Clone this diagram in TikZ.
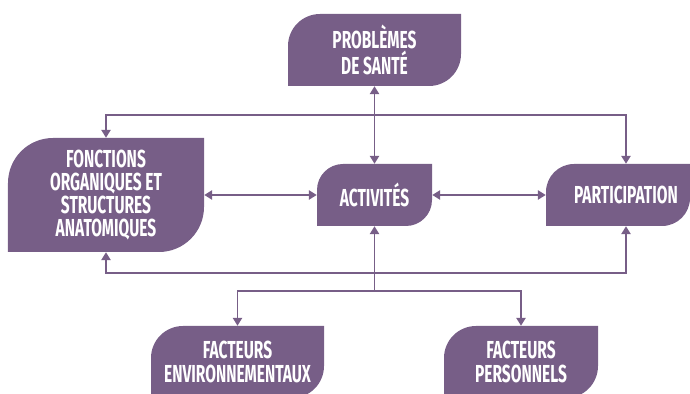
\documentclass[tikz,border=0pt]{standalone}
\usepackage{fontspec}
\usepackage{tikz}
\usetikzlibrary{arrows.meta}
\usetikzlibrary{positioning}
\newfontfamily\boxfont{Fira Sans}[FakeStretch=0.63]
\definecolor{icfpurple}{HTML}{775E87}
\tikzset{
leaf/.style={
	rectangle,
	inner sep=0pt,
	text=white,
	align=center,
	font=\boxfont\bfseries\fontsize{17.5}{16.4}\selectfont,
	path picture={
		\fill[icfpurple] (path picture bounding box.south west)
			-- ([yshift=-#1]path picture bounding box.north west)
			arc[start angle=180, end angle=90, radius=#1]
			-- (path picture bounding box.north east)
			-- ([yshift=#1]path picture bounding box.south east)
			arc[start angle=0, end angle=-90, radius=#1]
			-- cycle;
	}
},
leaf/.default=0.8cm,
arrow/.style={
	->,
	>={Triangle[length=5.5pt,width=6.5pt]},
	draw=icfpurple,
	line width=1.1pt
}
}
\begin{document}
\begin{tikzpicture}
\useasboundingbox (0,0) rectangle (17.25,-9.85);
% ===== Boxes =====
\node (sante) [leaf,        minimum width=4.325cm, minimum height=1.8cm]  at (9.3625, -1.25)  {PROBLÈMES\\DE SANTÉ};
\node (fonc)  [leaf=1.125cm, minimum width=4.9cm,  minimum height=2.85cm] at (2.65, -4.875)   {FONCTIONS\\ORGANIQUES ET\\STRUCTURES\\ANATOMIQUES};
\node (act)   [leaf=0.65cm, minimum width=2.875cm, minimum height=1.55cm] at (9.3625, -4.875) {ACTIVITÉS};
\node (part)  [leaf=0.7cm,  minimum width=3.6cm,   minimum height=1.55cm] at (15.45, -4.875)  {\hspace*{0.4cm}PARTICIPATION};
\node (env)   [leaf,        minimum width=4.325cm, minimum height=1.8cm]  at (5.9375, -9.05)  {FACTEURS\\ENVIRONNEMENTAUX};
\node (pers)  [leaf,        minimum width=3.85cm,  minimum height=1.8cm]  at (13.025, -9.05)  {FACTEURS\\PERSONNELS};

% split points on the centre line
\coordinate (topbar) at (9.3625, -2.875);
\coordinate (lowbar) at (9.3625, -6.825);
\coordinate (envbar) at (9.3625, -7.275);

% ===== Arrows =====
\draw [arrow, <->] (sante.south) -- (act.north);
\draw [arrow, <->] (fonc.east)   -- (act.west);
\draw [arrow, <->] (act.east)    -- (part.west);

% top bar: down into the side boxes
\draw [arrow] (topbar) -| (fonc.north);
\draw [arrow] (topbar) -| ([xshift=0.2cm]part.north);
% bottom bar: up into the side boxes
\draw [arrow] (lowbar) -| (fonc.south);
\draw [arrow] (lowbar) -| ([xshift=0.2cm]part.south);

% factors feed the centre
\draw [arrow] (envbar) -- (act.south);
\draw [arrow] (envbar) -| (env.north);
\draw [arrow] (envbar) -| (pers.north);

\end{tikzpicture}
\end{document}
